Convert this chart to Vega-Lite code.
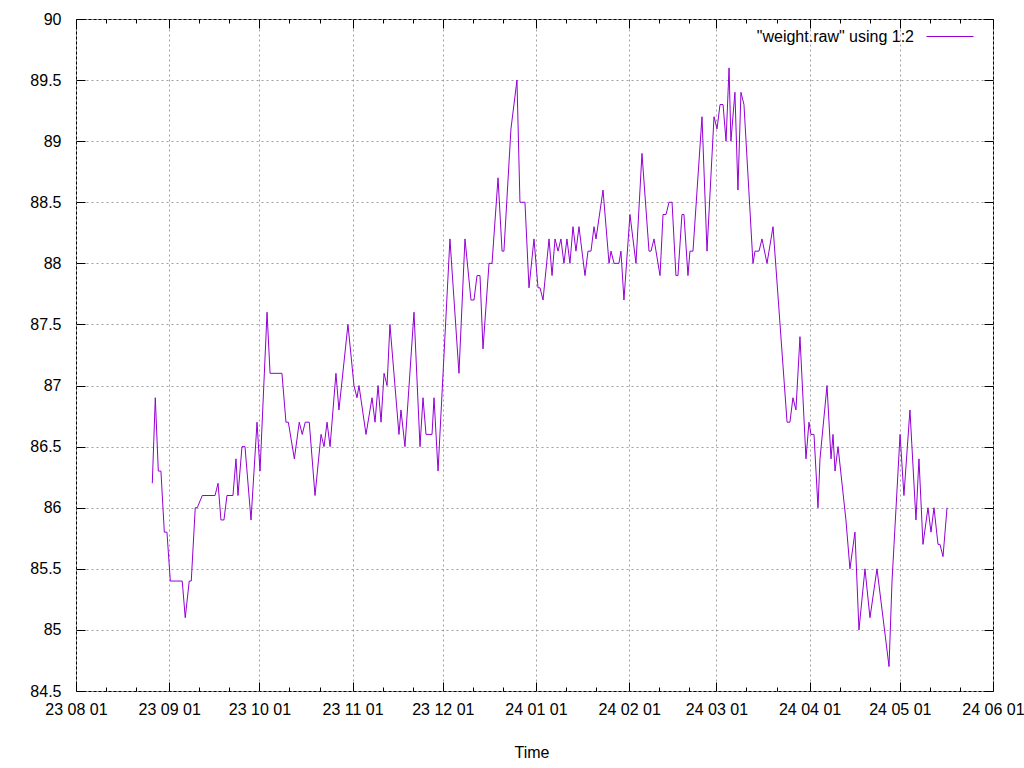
{
  "$schema": "https://vega.github.io/schema/vega-lite/v6.json",
  "width": 917,
  "height": 672,
  "autosize": {"type": "none"},
  "padding": {"left": 76, "top": 19, "right": 31, "bottom": 77},
  "background": "white",
  "config": {
    "view": {"stroke": "#000000", "strokeWidth": 1},
    "font": "Liberation Sans",
    "axis": {
      "domain": false,
      "labelFont": "Liberation Sans",
      "labelFontSize": 16,
      "labelColor": "#000000",
      "tickColor": "#000000",
      "tickWidth": 1,
      "gridColor": "#a0a0a0",
      "gridDash": [2, 3],
      "gridWidth": 1,
      "gridOpacity": 1,
      "titleFont": "Liberation Sans",
      "titleFontSize": 16,
      "titleFontWeight": "normal",
      "titleColor": "#000000"
    },
    "legend": {
      "orient": "none",
      "legendX": 850,
      "legendY": -6.5,
      "padding": 0,
      "symbolType": "stroke",
      "symbolSize": 2209,
      "symbolStrokeWidth": 1,
      "labelAlign": "right",
      "labelOffset": -60,
      "labelBaseline": "middle",
      "labelFont": "Liberation Sans",
      "labelFontSize": 16,
      "labelColor": "#000000",
      "labelLimit": 400
    }
  },
  "datasets": {
    "w": [
      {"t": "2023-08-26T09:00", "w": 86.2},
      {"t": "2023-08-27T09:00", "w": 86.9},
      {"t": "2023-08-28T09:00", "w": 86.3},
      {"t": "2023-08-29T06:00", "w": 86.3},
      {"t": "2023-08-30T09:00", "w": 85.8},
      {"t": "2023-08-31T06:00", "w": 85.8},
      {"t": "2023-09-01T09:00", "w": 85.4},
      {"t": "2023-09-05T08:00", "w": 85.4},
      {"t": "2023-09-06T08:00", "w": 85.1},
      {"t": "2023-09-07T16:00", "w": 85.4},
      {"t": "2023-09-08T08:00", "w": 85.4},
      {"t": "2023-09-09T16:00", "w": 86.0},
      {"t": "2023-09-10T08:00", "w": 86.0},
      {"t": "2023-09-12T00:00", "w": 86.1},
      {"t": "2023-09-16T06:00", "w": 86.1},
      {"t": "2023-09-17T06:00", "w": 86.2},
      {"t": "2023-09-18T05:00", "w": 85.9},
      {"t": "2023-09-19T05:00", "w": 85.9},
      {"t": "2023-09-20T05:00", "w": 86.1},
      {"t": "2023-09-22T05:00", "w": 86.1},
      {"t": "2023-09-23T05:00", "w": 86.4},
      {"t": "2023-09-23T21:00", "w": 86.1},
      {"t": "2023-09-25T05:00", "w": 86.5},
      {"t": "2023-09-26T05:00", "w": 86.5},
      {"t": "2023-09-28T05:00", "w": 85.9},
      {"t": "2023-09-30T05:00", "w": 86.7},
      {"t": "2023-10-01T05:00", "w": 86.3},
      {"t": "2023-10-03T13:00", "w": 87.6},
      {"t": "2023-10-04T13:00", "w": 87.1},
      {"t": "2023-10-08T12:00", "w": 87.1},
      {"t": "2023-10-09T20:00", "w": 86.7},
      {"t": "2023-10-10T15:00", "w": 86.7},
      {"t": "2023-10-12T15:00", "w": 86.4},
      {"t": "2023-10-14T06:00", "w": 86.7},
      {"t": "2023-10-15T06:00", "w": 86.6},
      {"t": "2023-10-16T06:00", "w": 86.7},
      {"t": "2023-10-17T14:00", "w": 86.7},
      {"t": "2023-10-19T12:00", "w": 86.1},
      {"t": "2023-10-21T12:00", "w": 86.6},
      {"t": "2023-10-22T12:00", "w": 86.5},
      {"t": "2023-10-23T12:00", "w": 86.7},
      {"t": "2023-10-24T12:00", "w": 86.5},
      {"t": "2023-10-26T11:00", "w": 87.1},
      {"t": "2023-10-27T11:00", "w": 86.8},
      {"t": "2023-10-30T11:00", "w": 87.5},
      {"t": "2023-11-01T11:00", "w": 87.0},
      {"t": "2023-11-02T11:00", "w": 86.9},
      {"t": "2023-11-03T03:00", "w": 87.0},
      {"t": "2023-11-05T11:00", "w": 86.6},
      {"t": "2023-11-07T11:00", "w": 86.9},
      {"t": "2023-11-08T11:00", "w": 86.7},
      {"t": "2023-11-09T11:00", "w": 87.0},
      {"t": "2023-11-10T11:00", "w": 86.7},
      {"t": "2023-11-11T11:00", "w": 87.1},
      {"t": "2023-11-12T11:00", "w": 87.0},
      {"t": "2023-11-13T10:00", "w": 87.5},
      {"t": "2023-11-16T10:00", "w": 86.6},
      {"t": "2023-11-17T02:00", "w": 86.8},
      {"t": "2023-11-18T10:00", "w": 86.5},
      {"t": "2023-11-21T10:00", "w": 87.6},
      {"t": "2023-11-23T10:00", "w": 86.5},
      {"t": "2023-11-24T10:00", "w": 86.9},
      {"t": "2023-11-25T10:00", "w": 86.6},
      {"t": "2023-11-27T10:00", "w": 86.6},
      {"t": "2023-11-28T02:00", "w": 86.9},
      {"t": "2023-11-29T10:00", "w": 86.3},
      {"t": "2023-12-03T09:00", "w": 88.2},
      {"t": "2023-12-06T09:00", "w": 87.1},
      {"t": "2023-12-08T09:00", "w": 88.2},
      {"t": "2023-12-10T09:00", "w": 87.7},
      {"t": "2023-12-11T09:00", "w": 87.7},
      {"t": "2023-12-12T09:00", "w": 87.9},
      {"t": "2023-12-13T09:00", "w": 87.9},
      {"t": "2023-12-14T09:00", "w": 87.3},
      {"t": "2023-12-16T09:00", "w": 88.0},
      {"t": "2023-12-17T09:00", "w": 88.0},
      {"t": "2023-12-19T09:00", "w": 88.7},
      {"t": "2023-12-20T17:00", "w": 88.1},
      {"t": "2023-12-21T08:00", "w": 88.1},
      {"t": "2023-12-23T16:00", "w": 89.1},
      {"t": "2023-12-25T16:00", "w": 89.5},
      {"t": "2023-12-26T16:00", "w": 88.5},
      {"t": "2023-12-28T08:00", "w": 88.5},
      {"t": "2023-12-29T16:00", "w": 87.8},
      {"t": "2023-12-31T08:00", "w": 88.2},
      {"t": "2024-01-01T16:00", "w": 87.8},
      {"t": "2024-01-02T08:00", "w": 87.8},
      {"t": "2024-01-03T08:00", "w": 87.7},
      {"t": "2024-01-05T08:00", "w": 88.2},
      {"t": "2024-01-06T08:00", "w": 87.9},
      {"t": "2024-01-07T08:00", "w": 88.2},
      {"t": "2024-01-08T08:00", "w": 88.1},
      {"t": "2024-01-09T07:00", "w": 88.2},
      {"t": "2024-01-10T07:00", "w": 88.0},
      {"t": "2024-01-11T07:00", "w": 88.2},
      {"t": "2024-01-12T07:00", "w": 88.0},
      {"t": "2024-01-13T07:00", "w": 88.3},
      {"t": "2024-01-14T07:00", "w": 88.1},
      {"t": "2024-01-15T07:00", "w": 88.3},
      {"t": "2024-01-17T07:00", "w": 87.9},
      {"t": "2024-01-18T07:00", "w": 88.1},
      {"t": "2024-01-19T07:00", "w": 88.1},
      {"t": "2024-01-20T07:00", "w": 88.3},
      {"t": "2024-01-20T23:00", "w": 88.2},
      {"t": "2024-01-23T07:00", "w": 88.6},
      {"t": "2024-01-25T07:00", "w": 88.0},
      {"t": "2024-01-25T23:00", "w": 88.1},
      {"t": "2024-01-26T23:00", "w": 88.0},
      {"t": "2024-01-28T14:00", "w": 88.0},
      {"t": "2024-01-29T06:00", "w": 88.1},
      {"t": "2024-01-30T06:00", "w": 87.7},
      {"t": "2024-02-01T06:00", "w": 88.4},
      {"t": "2024-02-03T06:00", "w": 88.0},
      {"t": "2024-02-05T06:00", "w": 88.9},
      {"t": "2024-02-07T14:00", "w": 88.1},
      {"t": "2024-02-08T06:00", "w": 88.1},
      {"t": "2024-02-09T06:00", "w": 88.2},
      {"t": "2024-02-11T06:00", "w": 87.9},
      {"t": "2024-02-12T06:00", "w": 88.4},
      {"t": "2024-02-13T06:00", "w": 88.4},
      {"t": "2024-02-14T06:00", "w": 88.5},
      {"t": "2024-02-15T06:00", "w": 88.5},
      {"t": "2024-02-16T13:00", "w": 87.9},
      {"t": "2024-02-17T05:00", "w": 87.9},
      {"t": "2024-02-18T13:00", "w": 88.4},
      {"t": "2024-02-19T05:00", "w": 88.4},
      {"t": "2024-02-20T13:00", "w": 87.9},
      {"t": "2024-02-21T05:00", "w": 88.1},
      {"t": "2024-02-22T05:00", "w": 88.1},
      {"t": "2024-02-25T05:00", "w": 89.2},
      {"t": "2024-02-26T21:00", "w": 88.1},
      {"t": "2024-02-29T05:00", "w": 89.2},
      {"t": "2024-03-01T05:00", "w": 89.1},
      {"t": "2024-03-02T05:00", "w": 89.3},
      {"t": "2024-03-03T05:00", "w": 89.3},
      {"t": "2024-03-04T05:00", "w": 89.0},
      {"t": "2024-03-05T05:00", "w": 89.6},
      {"t": "2024-03-05T20:00", "w": 89.0},
      {"t": "2024-03-07T04:00", "w": 89.4},
      {"t": "2024-03-08T04:00", "w": 88.6},
      {"t": "2024-03-09T04:00", "w": 89.4},
      {"t": "2024-03-10T04:00", "w": 89.3},
      {"t": "2024-03-13T04:00", "w": 88.0},
      {"t": "2024-03-13T20:00", "w": 88.1},
      {"t": "2024-03-15T04:00", "w": 88.1},
      {"t": "2024-03-16T04:00", "w": 88.2},
      {"t": "2024-03-17T20:00", "w": 88.0},
      {"t": "2024-03-19T20:00", "w": 88.3},
      {"t": "2024-03-24T12:00", "w": 86.7},
      {"t": "2024-03-25T11:00", "w": 86.7},
      {"t": "2024-03-26T11:00", "w": 86.9},
      {"t": "2024-03-27T11:00", "w": 86.8},
      {"t": "2024-03-28T19:00", "w": 87.4},
      {"t": "2024-03-30T19:00", "w": 86.4},
      {"t": "2024-03-31T19:00", "w": 86.7},
      {"t": "2024-04-01T11:00", "w": 86.6},
      {"t": "2024-04-02T11:00", "w": 86.6},
      {"t": "2024-04-03T19:00", "w": 86.0},
      {"t": "2024-04-04T11:00", "w": 86.4},
      {"t": "2024-04-06T19:00", "w": 87.0},
      {"t": "2024-04-08T03:00", "w": 86.4},
      {"t": "2024-04-08T19:00", "w": 86.6},
      {"t": "2024-04-09T11:00", "w": 86.3},
      {"t": "2024-04-10T11:00", "w": 86.5},
      {"t": "2024-04-13T02:00", "w": 85.9},
      {"t": "2024-04-14T10:00", "w": 85.5},
      {"t": "2024-04-16T02:00", "w": 85.8},
      {"t": "2024-04-17T10:00", "w": 85.0},
      {"t": "2024-04-19T10:00", "w": 85.5},
      {"t": "2024-04-21T02:00", "w": 85.1},
      {"t": "2024-04-23T10:00", "w": 85.5},
      {"t": "2024-04-27T10:00", "w": 84.7},
      {"t": "2024-04-28T10:00", "w": 85.4},
      {"t": "2024-04-29T02:00", "w": 85.7},
      {"t": "2024-05-01T02:00", "w": 86.6},
      {"t": "2024-05-02T09:00", "w": 86.1},
      {"t": "2024-05-04T09:00", "w": 86.8},
      {"t": "2024-05-06T09:00", "w": 85.9},
      {"t": "2024-05-07T09:00", "w": 86.4},
      {"t": "2024-05-08T17:00", "w": 85.7},
      {"t": "2024-05-10T09:00", "w": 86.0},
      {"t": "2024-05-11T09:00", "w": 85.8},
      {"t": "2024-05-12T09:00", "w": 86.0},
      {"t": "2024-05-13T17:00", "w": 85.7},
      {"t": "2024-05-14T09:00", "w": 85.7},
      {"t": "2024-05-15T09:00", "w": 85.6},
      {"t": "2024-05-16T17:00", "w": 86.0}
    ]
  },
  "layer": [
    {
      "data": {"name": "w"},
      "mark": {"type": "line", "strokeWidth": 1},
      "encoding": {
        "x": {
          "field": "t", "type": "temporal",
          "scale": {"domain": [{"year": 2023, "month": 8, "date": 1}, {"year": 2024, "month": 6, "date": 1}], "nice": false},
          "axis": {
            "orient": "bottom", "title": "Time", "format": "%y %m %d",
            "values": [
              {"year": 2023, "month": 8, "date": 1}, {"year": 2023, "month": 9, "date": 1},
              {"year": 2023, "month": 10, "date": 1}, {"year": 2023, "month": 11, "date": 1},
              {"year": 2023, "month": 12, "date": 1}, {"year": 2024, "month": 1, "date": 1},
              {"year": 2024, "month": 2, "date": 1}, {"year": 2024, "month": 3, "date": 1},
              {"year": 2024, "month": 4, "date": 1}, {"year": 2024, "month": 5, "date": 1},
              {"year": 2024, "month": 6, "date": 1}
            ],
            "grid": true, "tickSize": -9, "labelPadding": 19, "labelOverlap": false, "labelFlush": false,
            "titleX": 455.5, "titleY": 66, "titleBaseline": "alphabetic"
          }
        },
        "y": {
          "field": "w", "type": "quantitative",
          "scale": {"domain": [84.5, 90], "nice": false, "zero": false},
          "axis": {
            "orient": "left", "title": null, "format": "~g",
            "values": [84.5, 85, 85.5, 86, 86.5, 87, 87.5, 88, 88.5, 89, 89.5, 90],
            "grid": true, "tickSize": -9, "labelPadding": 24
          }
        },
        "color": {
          "datum": "\"weight.raw\" using 1:2", "type": "nominal",
          "scale": {"range": ["#9400d3"]},
          "legend": {"title": null}
        }
      }
    },
    {
      "data": {"name": "w"},
      "mark": {"type": "line", "strokeOpacity": 0},
      "encoding": {
        "x": {
          "field": "t", "type": "temporal",
          "axis": {
            "orient": "bottom", "title": null, "labels": false, "grid": false, "tickSize": -4,
            "values": [
              {"year": 2023, "month": 8, "date": 11}, {"year": 2023, "month": 8, "date": 21},
              {"year": 2023, "month": 9, "date": 11}, {"year": 2023, "month": 9, "date": 21},
              {"year": 2023, "month": 10, "date": 11}, {"year": 2023, "month": 10, "date": 21},
              {"year": 2023, "month": 11, "date": 11}, {"year": 2023, "month": 11, "date": 21},
              {"year": 2023, "month": 12, "date": 11}, {"year": 2023, "month": 12, "date": 21},
              {"year": 2024, "month": 1, "date": 11}, {"year": 2024, "month": 1, "date": 21},
              {"year": 2024, "month": 2, "date": 11}, {"year": 2024, "month": 2, "date": 21},
              {"year": 2024, "month": 3, "date": 11}, {"year": 2024, "month": 3, "date": 21},
              {"year": 2024, "month": 4, "date": 11}, {"year": 2024, "month": 4, "date": 21},
              {"year": 2024, "month": 5, "date": 11}, {"year": 2024, "month": 5, "date": 21}
            ]
          }
        },
        "y": {
          "field": "w", "type": "quantitative",
          "axis": {
            "orient": "right", "title": null, "labels": false, "grid": false, "tickSize": -9,
            "values": [84.5, 85, 85.5, 86, 86.5, 87, 87.5, 88, 88.5, 89, 89.5, 90]
          }
        }
      }
    },
    {
      "data": {"name": "w"},
      "mark": {"type": "line", "strokeOpacity": 0},
      "encoding": {
        "x": {
          "field": "t", "type": "temporal",
          "axis": {
            "orient": "top", "title": null, "labels": false, "grid": false, "tickSize": -9,
            "values": [
              {"year": 2023, "month": 8, "date": 1}, {"year": 2023, "month": 9, "date": 1},
              {"year": 2023, "month": 10, "date": 1}, {"year": 2023, "month": 11, "date": 1},
              {"year": 2023, "month": 12, "date": 1}, {"year": 2024, "month": 1, "date": 1},
              {"year": 2024, "month": 2, "date": 1}, {"year": 2024, "month": 3, "date": 1},
              {"year": 2024, "month": 4, "date": 1}, {"year": 2024, "month": 5, "date": 1},
              {"year": 2024, "month": 6, "date": 1}
            ]
          }
        },
        "y": {"field": "w", "type": "quantitative", "axis": null}
      }
    },
    {
      "data": {"name": "w"},
      "mark": {"type": "line", "strokeOpacity": 0},
      "encoding": {
        "x": {
          "field": "t", "type": "temporal",
          "axis": {
            "orient": "top", "title": null, "labels": false, "grid": false, "tickSize": -4,
            "values": [
              {"year": 2023, "month": 8, "date": 11}, {"year": 2023, "month": 8, "date": 21},
              {"year": 2023, "month": 9, "date": 11}, {"year": 2023, "month": 9, "date": 21},
              {"year": 2023, "month": 10, "date": 11}, {"year": 2023, "month": 10, "date": 21},
              {"year": 2023, "month": 11, "date": 11}, {"year": 2023, "month": 11, "date": 21},
              {"year": 2023, "month": 12, "date": 11}, {"year": 2023, "month": 12, "date": 21},
              {"year": 2024, "month": 1, "date": 11}, {"year": 2024, "month": 1, "date": 21},
              {"year": 2024, "month": 2, "date": 11}, {"year": 2024, "month": 2, "date": 21},
              {"year": 2024, "month": 3, "date": 11}, {"year": 2024, "month": 3, "date": 21},
              {"year": 2024, "month": 4, "date": 11}, {"year": 2024, "month": 4, "date": 21},
              {"year": 2024, "month": 5, "date": 11}, {"year": 2024, "month": 5, "date": 21}
            ]
          }
        },
        "y": {"field": "w", "type": "quantitative", "axis": null}
      }
    }
  ],
  "resolve": {"axis": {"x": "independent", "y": "independent"}}
}
